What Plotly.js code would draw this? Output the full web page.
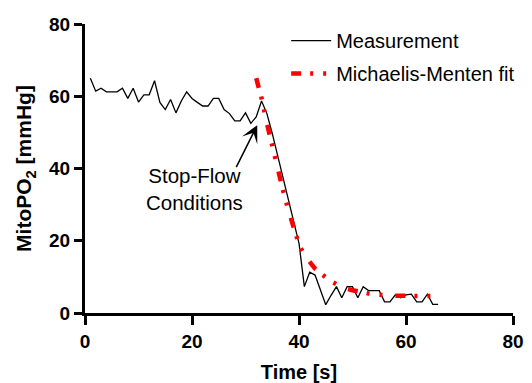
<!DOCTYPE html>
<html>
<head>
<meta charset="utf-8">
<script src="https://cdn.plot.ly/plotly-3.0.1.min.js"></script>
<style>html,body{margin:0;padding:0;background:#fff;}#chart{width:532px;height:383px;}</style>
</head>
<body>
<div id="chart"></div>
<script>
// Measurement (time in s, MitoPO2 in mmHg)
const measTime = [1,2,3,4,5,6,7,8,9,10,11,12,13,14,15,16,17,18,19,20,21,22,23,24,25,26,27,28,29,30,31,32,33,34,35,36,37,38,39,40,41,42,43,44,45,46,47,48,49,50,51,52,53,54,55,56,57,58,59,60,61,62,63,64,65,66];
const measPO2 = [65.0,61.4,62.2,61.2,61.2,61.2,62.2,59.4,62.2,58.4,60.4,60.4,64.3,58.3,56.3,59.1,55.4,58.7,61.2,59.4,58.3,57.3,57.3,59.4,59.4,56.3,55.2,53.2,53.2,55.4,52.5,54.3,58.7,55.2,49.7,43.5,37.4,31.4,25.3,19.3,7.3,11.3,10.5,6.5,2.3,4.9,7.3,4.2,7.3,7.3,4.2,7.3,6.2,6.2,6.2,3.1,3.1,5.0,4.2,5.0,5.2,3.1,3.1,5.2,2.4,2.4];

// Michaelis-Menten fit
const fitTime = [32,33,34,35,36,37,38,39,40,41,42,43,44,45,46,47,48,49,50,51,52,53,54,55,56,57,58,59,60,62,64,66];
const fitPO2 = [65.0,59.5,52.5,46.0,40.0,34.0,28.5,23.5,19.0,16.0,14.0,12.3,11.0,9.8,8.8,8.0,7.3,6.7,6.3,5.9,5.6,5.4,5.2,5.0,4.9,4.8,4.8,4.7,4.7,4.7,4.7,4.7];

const seriesNames = ["Measurement", "Michaelis-Menten fit"];
const xTicks = [0,20,40,60,80];
const yTicks = [0,20,40,60,80];

const FONT = '"Liberation Sans", Arial, Helvetica, sans-serif';

const traces = [
  {x: measTime, y: measPO2, type: 'scatter', mode: 'lines', name: seriesNames[0],
   legendgroup: 'a', line: {color: '#000000', width: 1.3}},
  {x: fitTime, y: fitPO2, type: 'scatter', mode: 'lines', name: seriesNames[1],
   legendgroup: 'b', line: {color: '#ff0000', width: 4.5, dash: '10px,9px,3px,10px,3px,13px'}}
];

const layout = {
  width: 532, height: 383,
  margin: {l: 85, r: 12, t: 24, b: 70},
  paper_bgcolor: '#ffffff', plot_bgcolor: '#ffffff',
  font: {family: FONT, color: '#000000'},
  showlegend: true,
  legend: {x: 0.47, y: 1.01, xanchor: 'left', yanchor: 'top', bgcolor: 'rgba(0,0,0,0)',
           font: {family: FONT, size: 20, color: '#000'}, traceorder: 'grouped', tracegroupgap: 4, itemwidth: 40},
  xaxis: {range: [0, 80], tickvals: xTicks, ticktext: xTicks.map(String), showgrid: false, zeroline: false,
          showline: true, linecolor: '#000', linewidth: 3, ticks: 'outside', ticklen: 9, tickwidth: 3, tickcolor: '#000',
          automargin: false,
          tickfont: {family: FONT, size: 19, color: '#000', weight: 'bold'},
          title: {text: 'Time [s]', font: {family: FONT, size: 20, color: '#000', weight: 'bold'}, standoff: 16}},
  yaxis: {range: [0, 80], tickvals: yTicks, ticktext: yTicks.map(String), showgrid: false, zeroline: false,
          showline: true, linecolor: '#000', linewidth: 3, ticks: 'outside', ticklen: 8, tickwidth: 3, tickcolor: '#000',
          automargin: false,
          tickfont: {family: FONT, size: 19, color: '#000', weight: 'bold'},
          title: {text: 'MitoPO<sub>2</sub> [mmHg]', font: {family: FONT, size: 21, color: '#000', weight: 'bold'}, standoff: 12}},
  annotations: [
    {x: 20.4, y: 34.3, xref: 'x', yref: 'y', text: 'Stop-Flow<br>Conditions', showarrow: false,
     font: {family: FONT, size: 20.5, color: '#000'}, align: 'center'},
    {x: 32.2, y: 52, xref: 'x', yref: 'y', text: ' ', showarrow: true, ax: -23, ay: 46,
     arrowhead: 3, arrowsize: 1.9, arrowwidth: 1.5, arrowcolor: '#000', font: {size: 4}}
  ]
};

Plotly.newPlot('chart', traces, layout, {staticPlot: true, displayModeBar: false});
</script>
</body>
</html>
